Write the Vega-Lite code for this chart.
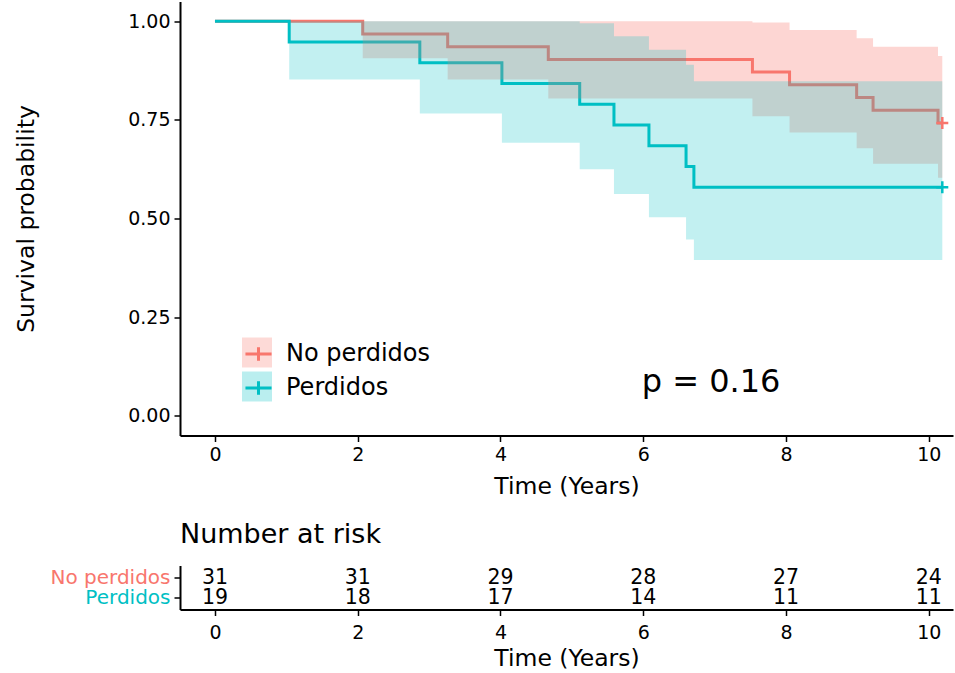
{
  "$schema": "https://vega.github.io/schema/vega-lite/v6.json",
  "background": "white",
  "padding": {"left": 13, "top": 1.5, "right": 0, "bottom": 4},
  "datasets": {
    "curve": [
      {"strata": "No perdidos", "time": 0, "surv": 1},
      {"strata": "No perdidos", "time": 2.07, "surv": 0.9677},
      {"strata": "No perdidos", "time": 3.26, "surv": 0.9355},
      {"strata": "No perdidos", "time": 4.67, "surv": 0.9032},
      {"strata": "No perdidos", "time": 7.53, "surv": 0.871},
      {"strata": "No perdidos", "time": 8.05, "surv": 0.8387},
      {"strata": "No perdidos", "time": 8.99, "surv": 0.8065},
      {"strata": "No perdidos", "time": 9.22, "surv": 0.7742},
      {"strata": "No perdidos", "time": 10.13, "surv": 0.7419},
      {"strata": "No perdidos", "time": 10.19, "surv": 0.7419},
      {"strata": "Perdidos", "time": 0, "surv": 1},
      {"strata": "Perdidos", "time": 1.04, "surv": 0.9474},
      {"strata": "Perdidos", "time": 2.87, "surv": 0.8947},
      {"strata": "Perdidos", "time": 4.02, "surv": 0.8421},
      {"strata": "Perdidos", "time": 5.11, "surv": 0.7895},
      {"strata": "Perdidos", "time": 5.59, "surv": 0.7368},
      {"strata": "Perdidos", "time": 6.08, "surv": 0.6842},
      {"strata": "Perdidos", "time": 6.6, "surv": 0.6316},
      {"strata": "Perdidos", "time": 6.71, "surv": 0.5789},
      {"strata": "Perdidos", "time": 10.19, "surv": 0.5789}
    ],
    "band": [
      {"group": "No perdidos", "time": 0, "lower": 1, "upper": 1},
      {"group": "No perdidos", "time": 2.07, "lower": 0.906, "upper": 1},
      {"group": "No perdidos", "time": 3.26, "lower": 0.852, "upper": 1},
      {"group": "No perdidos", "time": 4.67, "lower": 0.804, "upper": 1},
      {"group": "No perdidos", "time": 7.53, "lower": 0.759, "upper": 0.997},
      {"group": "No perdidos", "time": 8.05, "lower": 0.718, "upper": 0.978},
      {"group": "No perdidos", "time": 8.99, "lower": 0.678, "upper": 0.957},
      {"group": "No perdidos", "time": 9.22, "lower": 0.639, "upper": 0.935},
      {"group": "No perdidos", "time": 10.13, "lower": 0.603, "upper": 0.912},
      {"group": "No perdidos", "time": 10.19, "lower": 0.603, "upper": 0.912},
      {"group": "Perdidos", "time": 0, "lower": 1, "upper": 1},
      {"group": "Perdidos", "time": 1.04, "lower": 0.852, "upper": 1},
      {"group": "Perdidos", "time": 2.87, "lower": 0.766, "upper": 1},
      {"group": "Perdidos", "time": 4.02, "lower": 0.692, "upper": 1},
      {"group": "Perdidos", "time": 5.11, "lower": 0.625, "upper": 0.995},
      {"group": "Perdidos", "time": 5.59, "lower": 0.562, "upper": 0.962},
      {"group": "Perdidos", "time": 6.08, "lower": 0.503, "upper": 0.928},
      {"group": "Perdidos", "time": 6.6, "lower": 0.447, "upper": 0.89},
      {"group": "Perdidos", "time": 6.71, "lower": 0.395, "upper": 0.848},
      {"group": "Perdidos", "time": 10.19, "lower": 0.395, "upper": 0.848}
    ],
    "censor": [
      {"strata": "No perdidos", "time": 10.19, "surv": 0.7419},
      {"strata": "Perdidos", "time": 10.19, "surv": 0.5789}
    ],
    "pval": [{"time": 6.95, "surv": 0.061, "label": "p = 0.16"}],
    "risk": [
      {"strata": "No perdidos", "time": 0, "n": 31},
      {"strata": "No perdidos", "time": 2, "n": 31},
      {"strata": "No perdidos", "time": 4, "n": 29},
      {"strata": "No perdidos", "time": 6, "n": 28},
      {"strata": "No perdidos", "time": 8, "n": 27},
      {"strata": "No perdidos", "time": 10, "n": 24},
      {"strata": "Perdidos", "time": 0, "n": 19},
      {"strata": "Perdidos", "time": 2, "n": 18},
      {"strata": "Perdidos", "time": 4, "n": 17},
      {"strata": "Perdidos", "time": 6, "n": 14},
      {"strata": "Perdidos", "time": 8, "n": 11},
      {"strata": "Perdidos", "time": 10, "n": 11}
    ]
  },
  "spacing": 22,
  "vconcat": [
    {
      "width": 773,
      "height": 434,
      "layer": [
        {
          "data": {"name": "curve"},
          "mark": {"type": "line", "interpolate": "step-after", "strokeWidth": 3},
          "encoding": {
            "x": {"field": "time", "type": "quantitative",
              "scale": {"domain": [-0.49, 10.34], "nice": false, "zero": false},
              "axis": {"values": [0, 2, 4, 6, 8, 10], "format": "d", "title": "Time (Years)", "titlePadding": 10}},
            "y": {"field": "surv", "type": "quantitative",
              "scale": {"domain": [-0.05, 1.05], "nice": false, "zero": false},
              "axis": {"values": [0, 0.25, 0.5, 0.75, 1], "format": ".2f", "title": "Survival probability",
                "titleX": -154, "titleY": 217, "titleAngle": -90, "titleAlign": "center", "titleBaseline": "middle"}},
            "stroke": {"field": "strata", "type": "nominal",
              "scale": {"range": ["#F8766D", "#00BFC4"]},
              "legend": {"title": null, "orient": "none", "legendX": 62, "legendY": 336,
                "symbolType": "M-0.87,0H0.87M0,-0.45V0.45", "symbolSize": 900, "symbolStrokeWidth": 3,
                "labelFontSize": 24, "labelFont": "DejaVu Sans", "labelColor": "black", "labelLimit": 400,
                "rowPadding": 4, "labelOffset": 11, "padding": 0}}
          }
        },
        {
          "data": {"name": "band"},
          "mark": {"type": "area", "interpolate": "step-after"},
          "encoding": {
            "x": {"field": "time", "type": "quantitative"},
            "y": {"field": "lower", "type": "quantitative"},
            "y2": {"field": "upper"},
            "fillOpacity": {"field": "group", "type": "nominal", "scale": {"range": [0.3, 0.24]}, "legend": null},
            "fill": {"field": "group", "type": "nominal",
              "scale": {"range": ["#F8766D", "#00BFC4"]},
              "legend": {"title": null, "orient": "none", "legendX": 62, "legendY": 336,
                "symbolType": "square", "symbolSize": 900, "symbolOpacity": 0.27, "symbolStrokeWidth": 0,
                "labelFontSize": 24, "labelFont": "DejaVu Sans", "labelExpr": "''", "labelLimit": 400,
                "rowPadding": 4, "labelOffset": 11, "padding": 0}}
          }
        },
        {
          "data": {"name": "censor"},
          "mark": {"type": "point", "shape": "M-1,0H1M0,-1V1", "size": 144, "strokeWidth": 2.5, "filled": false, "opacity": 1},
          "encoding": {
            "x": {"field": "time", "type": "quantitative"},
            "y": {"field": "surv", "type": "quantitative"},
            "stroke": {"field": "strata", "type": "nominal", "legend": null}
          }
        },
        {
          "data": {"name": "pval"},
          "mark": {"type": "text", "fontSize": 32, "font": "DejaVu Sans", "color": "black", "align": "center", "baseline": "alphabetic"},
          "encoding": {
            "x": {"field": "time", "type": "quantitative"},
            "y": {"field": "surv", "type": "quantitative"},
            "text": {"field": "label"}
          }
        }
      ]
    },
    {
      "width": 773,
      "height": 44,
      "title": {"text": "Number at risk", "anchor": "start", "frame": "group", "fontSize": 27, "fontWeight": "normal", "font": "DejaVu Sans", "color": "black", "offset": 17},
      "data": {"name": "risk"},
      "mark": {"type": "text", "fontSize": 20.5, "font": "DejaVu Sans", "color": "black", "baseline": "middle"},
      "encoding": {
        "x": {"field": "time", "type": "quantitative",
          "scale": {"domain": [-0.49, 10.34], "nice": false, "zero": false},
          "axis": {"values": [0, 2, 4, 6, 8, 10], "format": "d", "title": "Time (Years)", "labelPadding": 8, "titlePadding": 4}},
        "y": {"field": "strata", "type": "nominal",
          "scale": {"type": "point", "padding": 0.6},
          "axis": {"title": null, "labelFontSize": 20,
            "labelColor": {"condition": {"test": "datum.value === 'Perdidos'", "value": "#00BFC4"}, "value": "#F8766D"}}},
        "text": {"field": "n", "type": "quantitative"}
      }
    }
  ],
  "config": {
    "view": {"stroke": null},
    "font": "DejaVu Sans",
    "axis": {
      "domainColor": "black", "domainWidth": 2, "tickColor": "black", "tickWidth": 1.5, "tickSize": 6,
      "labelFont": "DejaVu Sans", "labelFontSize": 19, "labelColor": "black", "labelPadding": 4,
      "titleFont": "DejaVu Sans", "titleFontSize": 23.5, "titleFontWeight": "normal", "titleColor": "black",
      "grid": false
    }
  }
}
